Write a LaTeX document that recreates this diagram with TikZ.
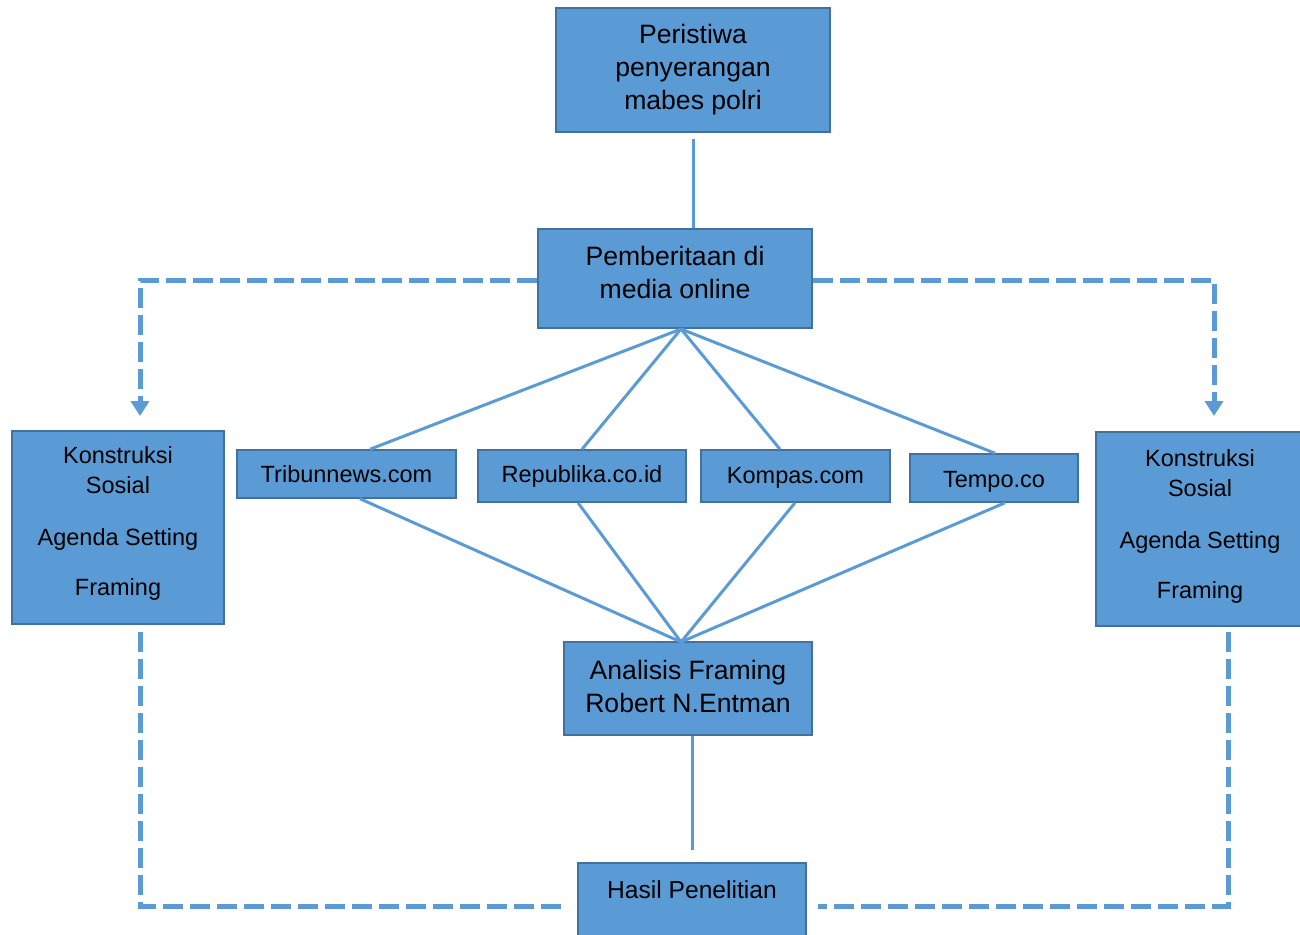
\documentclass[tikz,border=0pt]{standalone}
\usepackage{fontspec}
\setmainfont{Liberation Sans}
\usetikzlibrary{arrows.meta,calc}
\definecolor{boxfill}{HTML}{5B9BD5}
\definecolor{boxline}{HTML}{41719C}
\begin{document}
\begin{tikzpicture}[x=1pt,y=-1pt,
  box/.style={draw=boxline, line width=1.5pt, fill=boxfill, inner sep=0pt, align=center},
  big/.style={font=\fontsize{26.6}{33}\selectfont},
  small/.style={font=\fontsize{23.5}{30}\selectfont},
  conn/.style={draw=boxfill, line width=3pt},
  dashline/.style={draw=boxfill, line width=5pt, dash pattern=on 20pt off 7pt},
  tip/.style={-{Triangle[length=15pt,width=18pt]}}]
\useasboundingbox (0,0) rectangle (1300,934);
% nodes
\node[box,big,minimum width=274pt,minimum height=124pt] (top) at (693,70) {Peristiwa\\penyerangan\\mabes polri};
\node[box,big,minimum width=274pt,minimum height=99pt,text depth=12pt] (pem) at (675,278.5) {Pemberitaan di\\media online};
\node[box,small,minimum width=212pt,minimum height=193pt,text depth=13pt] (left) at (118,527.5) {Konstruksi\\Sosial\\[22pt]Agenda Setting\\[20pt]Framing};
\node[box,small,minimum width=208pt,minimum height=194pt,text depth=11pt] (right) at (1200,529) {Konstruksi\\Sosial\\[22pt]Agenda Setting\\[20pt]Framing};
\node[box,small,minimum width=219pt,minimum height=48pt] (trib) at (346.5,474) {Tribunnews.com};
\node[box,small,minimum width=208pt,minimum height=52pt] (rep) at (582,476) {Republika.co.id};
\node[box,small,minimum width=189pt,minimum height=52pt,text height=20pt] (komp) at (795.5,476) {Kompas.com};
\node[box,small,minimum width=168pt,minimum height=48pt,text height=24.8pt] (tempo) at (994,478) {Tempo.co};
\node[box,big,minimum width=248pt,minimum height=93pt,text depth=4pt] (anal) at (688,688.5) {Analisis Framing\\Robert N.Entman};
\node[box,font=\fontsize{24.6}{30}\selectfont,minimum width=228pt,anchor=north,inner ysep=9pt,text height=27pt,text depth=68pt] (hasil) at (692,862) {Hasil Penelitian};
% coordinates
\coordinate (hubT) at (681,329);
\coordinate (hubB) at (681,642);
\coordinate (la) at (140,416);
\coordinate (ra) at (1214,416);
\coordinate (lb) at (140,632);
\coordinate (rb) at (1228,632);
\coordinate (hl) at (565,906);
\coordinate (hr) at (818,906);
% solid connectors
\draw[conn] ([yshift=-6pt]top.south) -- (top.south |- pem.north);
\draw[conn] (hubT) -- ([xshift=23.5pt]trib.north);
\draw[conn] (hubT) -- (rep.north);
\draw[conn] (hubT) -- ([xshift=-15.5pt]komp.north);
\draw[conn] (hubT) -- ([xshift=1pt]tempo.north);
\draw[conn] ([xshift=13.5pt]trib.south) -- (hubB);
\draw[conn] ([xshift=-4pt]rep.south) -- (hubB);
\draw[conn] ([xshift=-0.5pt]komp.south) -- (hubB);
\draw[conn] ([xshift=11pt]tempo.south) -- (hubB);
\draw[conn] (anal.south -| hasil.north) -- ([yshift=12pt]hasil.north);
% dashed connectors
\draw[dashline,tip] (pem.west |- 0,280) -| (la);
\draw[dashline,tip] (pem.east |- 0,280) -| (ra);
\draw[dashline] (lb) |- (hl);
\draw[dashline] (rb) |- (hr);
\end{tikzpicture}
\end{document}
